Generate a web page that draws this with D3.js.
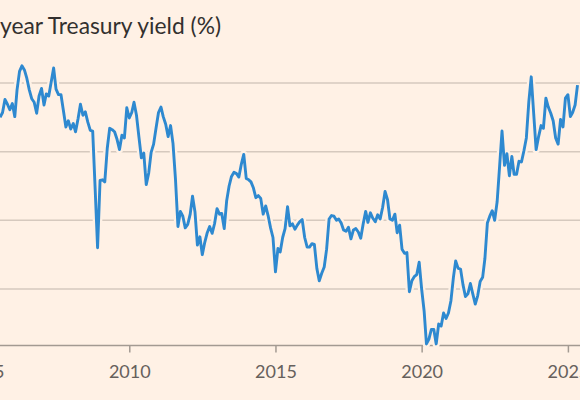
<!DOCTYPE html>
<html><head><meta charset="utf-8">
<script src="https://cdn.jsdelivr.net/npm/d3@7"></script>
<style>html,body{margin:0;padding:0;background:#fff1e5;overflow:hidden}</style>
</head><body><svg id="c" width="580" height="400"></svg>
<script>
const title = "30-year Treasury yield (%)";
const startMonth = "2005-08";
const values = [
4.50,4.57,4.76,4.69,4.61,
4.70,4.51,4.90,5.17,5.25,5.19,5.07,4.90,4.77,4.72,4.56,4.81,
4.92,4.68,4.84,4.81,5.01,5.22,4.91,4.83,4.83,4.60,4.36,4.45,
4.33,4.41,4.29,4.48,4.69,4.53,4.58,4.43,4.31,4.30,3.45,2.60,
3.58,3.59,3.56,4.05,4.34,4.32,4.29,4.18,4.03,4.24,4.20,4.64,
4.49,4.57,4.72,4.53,4.22,3.91,3.98,3.52,3.69,3.99,4.11,4.34,
4.57,4.65,4.51,4.40,4.22,4.38,4.12,3.60,2.91,3.13,3.06,2.89,
2.94,3.09,3.35,3.12,2.64,2.76,2.50,2.68,2.82,2.91,2.81,2.95,
3.17,3.09,3.10,2.88,3.28,3.50,3.64,3.70,3.68,3.63,3.82,3.96,
3.61,3.59,3.56,3.47,3.33,3.36,3.32,3.09,3.21,3.07,2.89,2.75,
2.25,2.59,2.54,2.75,2.88,3.20,2.92,2.95,2.87,2.93,2.98,3.01,
2.75,2.61,2.61,2.66,2.65,2.30,2.12,2.23,2.32,2.58,3.02,3.07,
3.06,3.00,3.02,2.96,2.86,2.84,2.90,2.73,2.86,2.88,2.83,2.74,
2.95,3.13,2.97,3.11,3.03,2.98,3.08,3.02,3.19,3.42,3.30,3.02,
3.00,3.09,2.82,2.93,2.58,2.52,2.53,1.96,2.12,2.18,2.21,2.39,
2.00,1.68,1.20,1.27,1.41,1.41,1.20,1.49,1.46,1.65,1.57,1.65,
1.83,2.17,2.41,2.30,2.29,2.06,1.89,1.93,2.08,1.93,1.78,1.90,
2.11,2.17,2.44,2.96,3.06,3.14,3.00,3.27,3.79,4.30,3.80,3.97,
3.65,3.93,3.67,3.67,3.86,3.85,4.01,4.20,4.73,5.09,4.55,4.03,
4.22,4.38,4.34,4.78,4.65,4.56,4.45,4.20,4.11,4.47,4.36,4.78,
4.83,4.51,4.57,4.68,4.97];
const gridValues = [2,3,4,5];
const tickYears = [2005,2010,2015,2020,2025];

const p = d3.timeParse("%Y-%m");
const start = p(startMonth);
const data = values.map((v,i)=>({d:d3.timeMonth.offset(start,i), v}));

const svg = d3.select("#c");
const x = d3.scaleTime().domain([new Date(2005,0,1), new Date(2025,0,1)]).range([-16.9, 567.9]);
const y = d3.scaleLinear().domain([2,5]).range([289,83]);
const base = 345.5;

svg.append("text").attr("x",221).attr("y",34).attr("text-anchor","end")
  .attr("font-family","Lato, 'Open Sans', sans-serif").attr("font-size",22.8)
  .attr("fill","#33302e").text(title);

svg.append("g").selectAll("line").data(gridValues).join("line")
  .attr("x1",0).attr("x2",580).attr("y1",d=>y(d)).attr("y2",d=>y(d))
  .attr("stroke","#d6c9be").attr("stroke-width",1.5);

const xAxis = d3.axisBottom(x).tickValues(tickYears.map(yr=>new Date(yr,0,1)))
  .tickFormat(d3.timeFormat("%Y")).tickSize(7).tickPadding(13);
const ax = svg.append("g").attr("transform",`translate(0,${base})`).call(xAxis);
ax.select(".domain").remove();
ax.append("line").attr("x1",0).attr("x2",580).attr("stroke","#a39a92").attr("stroke-width",1.5);
ax.selectAll(".tick line").attr("stroke","#a39a92").attr("stroke-width",1.5);
ax.selectAll(".tick text").attr("font-family","Lato, 'Open Sans', sans-serif")
  .attr("font-size",18).attr("fill","#66605c");

const line = d3.line().x(d=>x(d.d)).y(d=>y(d.v));
svg.append("path").datum(data).attr("d",line).attr("fill","none")
  .attr("stroke","#fff1e5").attr("stroke-width",7.5).attr("stroke-linejoin","round");
svg.append("path").datum(data).attr("d",line).attr("fill","none")
  .attr("stroke","#2e89d0").attr("stroke-width",2.9).attr("stroke-linejoin","round");
</script></body></html>
